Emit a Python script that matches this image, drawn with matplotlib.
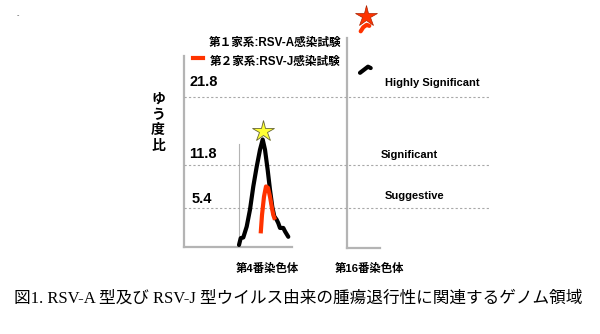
import matplotlib
matplotlib.use("Agg")
import matplotlib.pyplot as plt

plt.rcParams['font.family'] = ['Noto Sans CJK JP', 'DejaVu Sans']
SANS = ['Liberation Sans', 'Noto Sans CJK JP']

# LOD thresholds and their labels
THRESHOLDS = [21.8, 11.8, 5.4]
THRESHOLD_NAMES = ['Highly Significant', 'Significant', 'Suggestive']

# chromosome 4 scan (position along plot, likelihood ratio)
chr4_a_pos = [55, 56.7, 59.3, 62.7, 66, 69.3, 72.7, 76, 78.7, 81, 83.7, 86,
              88.3, 90.3, 92.7, 94.3, 96, 99.3, 101, 104.3]
chr4_a_lod = [0.0, 1.0, 1.1, 2.7, 5.2, 8.6, 11.5, 14.0, 15.5, 14.0, 11.0, 8.1,
              5.6, 4.2, 3.7, 3.2, 2.5, 2.5, 2.0, 1.2]
chr4_j_pos = [76.7, 78, 80, 82, 84, 86, 88, 89.3, 91]
chr4_j_lod = [1.7, 4.4, 7.1, 8.6, 8.4, 7.1, 5.4, 4.4, 3.7]

# chromosome 16 scan
chr16_a_pos = [176, 184, 186.7]
chr16_a_lod = [25.3, 26.2, 26.0]
chr16_j_pos = [176.7, 179.3, 182.7, 185.3]
chr16_j_lod = [31.4, 32.0, 32.35, 32.2]

# peaks marked with stars
peak4 = (78.7, 16.8)
peak16 = (182, 33.7)

GRAY = '#b4b4b4'
RED = '#ff3300'

fig = plt.figure(figsize=(6.0, 3.34), dpi=100)
ax = fig.add_axes([184 / 600, 87 / 334, 307 / 600, 247 / 334])
ax.set_xlim(0, 307)
ax.set_ylim(-0.3, 36.0)
ax.axis('off')

# frame lines of the two panels
ax.plot([0, 0], [-0.3, 27.8], color=GRAY, lw=1.6, clip_on=False)
ax.plot([0, 108], [-0.3, -0.3], color=GRAY, lw=1.6, clip_on=False)
ax.plot([55, 55], [-0.3, 14.85], color=GRAY, lw=0.8)
ax.plot([163, 163], [-0.45, 30.4], color=GRAY, lw=1.6, clip_on=False)
ax.plot([163, 196], [-0.45, -0.45], color=GRAY, lw=1.6, clip_on=False)

for t in THRESHOLDS:
    ax.plot([0, 307], [t, t], color='#a8a8a8', lw=0.8, ls=(0, (2, 2)))

# scan curves
ax.plot(chr4_a_pos, chr4_a_lod, color='black', lw=3.0, solid_capstyle='round')
ax.plot(chr4_j_pos, chr4_j_lod, color=RED, lw=3.0, solid_capstyle='butt')
ax.plot(chr16_a_pos, chr16_a_lod, color='black', lw=3.0, solid_capstyle='round')
ax.plot(chr16_j_pos, chr16_j_lod, color=RED, lw=3.0, solid_capstyle='round',
        clip_on=False)

ax.plot(*peak4, marker='*', ms=16, mfc='#ffff33', mec='#666633', mew=0.6,
        clip_on=False)
ax.plot(*peak16, marker='*', ms=16, mfc=RED, mec='#aa2200', mew=0.5,
        clip_on=False)

# threshold values on the left, names on the right
ax.text(5, 24.0, '21.8', fontsize=10.5, fontweight='bold', va='center', family=SANS)
ax.text(5, 13.4, '11.8', fontsize=10.5, fontweight='bold', va='center', family=SANS)
ax.text(8, 6.8, '5.4', fontsize=10.5, fontweight='bold', va='center', family=SANS)
ax.text(201, 23.8, THRESHOLD_NAMES[0], fontsize=8, fontweight='bold',
        va='center', family=SANS)
ax.text(197, 13.2, THRESHOLD_NAMES[1], fontsize=8, fontweight='bold',
        va='center', family=SANS)
ax.text(201, 7.2, THRESHOLD_NAMES[2], fontsize=8, fontweight='bold',
        va='center', family=SANS)

# legend
ax.text(157, 29.7, '第１家系:RSV-A感染試験', fontsize=8.4, fontweight='bold',
        ha='right', va='center', family=SANS)
ax.text(157, 26.9, '第２家系:RSV-J感染試験', fontsize=8.4, fontweight='bold',
        ha='right', va='center', family=SANS)
ax.plot([9, 19], [27.5, 27.5], color=RED, lw=3.0)

# y label, stacked vertically
ax.text(-26, 18.0, 'ゆ\nう\n度\n比', fontsize=10, fontweight='bold',
        ha='center', va='center', linespacing=1.15, clip_on=False)

# chromosome labels
ax.text(83, -3.4, '第4番染色体', fontsize=8.2, fontweight='bold',
        ha='center', va='center', clip_on=False, family=SANS)
ax.text(186, -3.4, '第16番染色体', fontsize=8.2, fontweight='bold',
        ha='center', va='center', clip_on=False, family=SANS)

fig.text(17 / 600, 1 - 16 / 334, '-', fontsize=5, color='#333333', va='center')
fig.text(14 / 600, 1 - 299 / 334,
         '図1. RSV-A 型及び RSV-J 型ウイルス由来の腫瘍退行性に関連するゲノム領域',
         fontsize=12, va='center',
         family=['Liberation Serif', 'Noto Sans CJK JP'])

fig.savefig('out.png', dpi=100)
